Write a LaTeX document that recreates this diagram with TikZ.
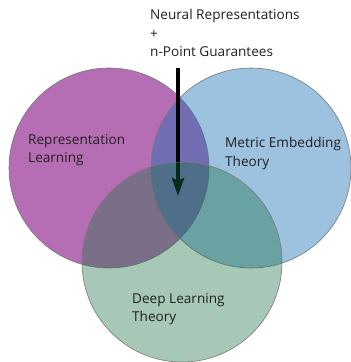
\documentclass[tikz,border=0pt]{standalone}
\usepackage{fontspec}
\setmainfont{Open Sans}
\usepackage{tikz}
\usetikzlibrary{positioning,arrows.meta}
\definecolor{cPlum}{RGB}{181,110,180}
\definecolor{cSky}{RGB}{21,112,181}
\definecolor{cSage}{RGB}{26,110,68}
\definecolor{cRim}{RGB}{120,120,120}
\definecolor{cInk}{RGB}{35,31,32}
\tikzset{
  venn/.style={circle,draw=cRim,line width=0.6pt,minimum size=200pt,inner sep=0pt},
  lbl/.style={align=left,anchor=north west,font=\fontsize{13.6}{18.5}\selectfont,text=cInk,inner sep=0pt},
  arr/.style={-{Stealth[length=18pt,width=12pt,inset=3pt]},line width=4pt,black},
}
\begin{document}
\begin{tikzpicture}[x=1pt,y=-1pt]
  \useasboundingbox[fill=white] (0,0) rectangle (351,362);
  % three fields, the middle one sits under the arrow
  \node[venn,fill=cPlum] (rep) at (109,168) {};
  \node[venn,fill=cSky,fill opacity=0.42] (met) at (251,168) {};
  \coordinate (top) at (178,68);
  \coordinate (core) at (178,196);
  \draw[arr] (top) -- (core);
  \node[venn,fill=cSage,fill opacity=0.38] (dlt) at (182,262) {};
  % labels
  \node[lbl] (title) at (150,9) {Neural Representations\\+\\n-Point Guarantees};
  \node[lbl] (replbl) at (28,134) {Representation\\Learning};
  \node[lbl] (metlbl) at (225,137) {Metric Embedding\\Theory};
  \node[lbl] (dltlbl) at (132,293) {Deep Learning\\Theory};
\end{tikzpicture}
\end{document}
